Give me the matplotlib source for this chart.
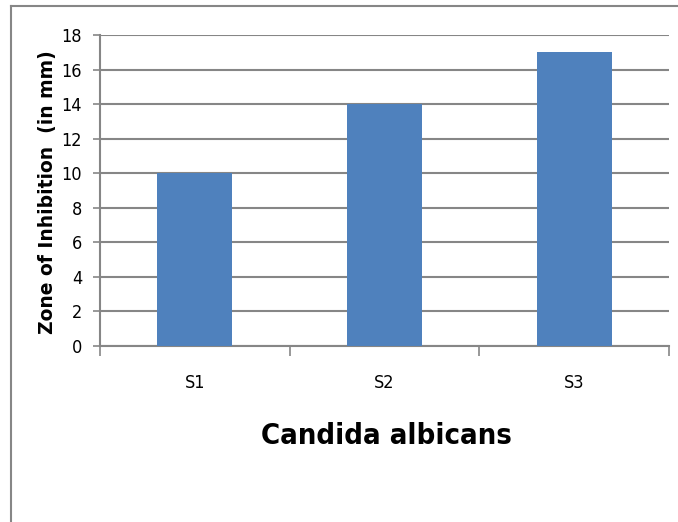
import matplotlib
matplotlib.use("Agg")
import matplotlib.pyplot as plt
from matplotlib.lines import Line2D

categories = ["S1", "S2", "S3"]
values = [10, 14, 17]
yticks = [0, 2, 4, 6, 8, 10, 12, 14, 16, 18]
xlabel = "Candida albicans"
ylabel = "Zone of Inhibition  (in mm)"

W, H = 678, 522
fig = plt.figure(figsize=(W / 100, H / 100), dpi=100)
ax = fig.add_axes([100 / W, 1 - 346 / H, (669 - 100) / W, (346 - 35) / H])

tick_font = dict(family="DejaVu Sans", stretch="condensed", size=13)

x = list(range(len(categories)))
ax.bar(x, values, width=0.395, color="#4F81BD", zorder=3)
ax.set_xlim(-0.5, len(categories) - 0.5)
ax.set_ylim(0, 18)
ax.set_yticks(yticks)
ax.set_yticklabels([str(t) for t in yticks], fontdict=tick_font)
ax.set_xticks(x)
ax.set_xticklabels(categories, fontdict=tick_font)
ax.tick_params(axis="x", length=0, pad=20)
ax.tick_params(axis="y", length=5, width=1.2, color="#868686", pad=8)
ax.set_xticks([i + 0.5 for i in range(-1, len(categories))], minor=True)
ax.tick_params(axis="x", which="minor", length=7, width=1.2, color="#868686", direction="out")

ax.grid(axis="y", color="#868686", linewidth=1.5, zorder=0)
for s in ["top", "right"]:
    ax.spines[s].set_visible(False)
for s in ["left", "bottom"]:
    ax.spines[s].set_color("#868686")
    ax.spines[s].set_linewidth(1.5)

fig.text(47 / W, 1 - 192 / H, ylabel, rotation=90, ha="center", va="center",
         fontsize=13.5, fontweight="bold", family="DejaVu Sans")
fig.text(386 / W, 1 - 436 / H, xlabel, ha="center", va="center",
         fontsize=21, fontweight="bold", family="DejaVu Sans", stretch="condensed")

fig.add_artist(Line2D([11 / W, 11 / W], [0, 1 - 6 / H], transform=fig.transFigure,
                      color="#868686", linewidth=1.5))
fig.add_artist(Line2D([11 / W, 1], [1 - 6 / H, 1 - 6 / H], transform=fig.transFigure,
                      color="#868686", linewidth=1.5))

fig.savefig("out.png", dpi=100)
